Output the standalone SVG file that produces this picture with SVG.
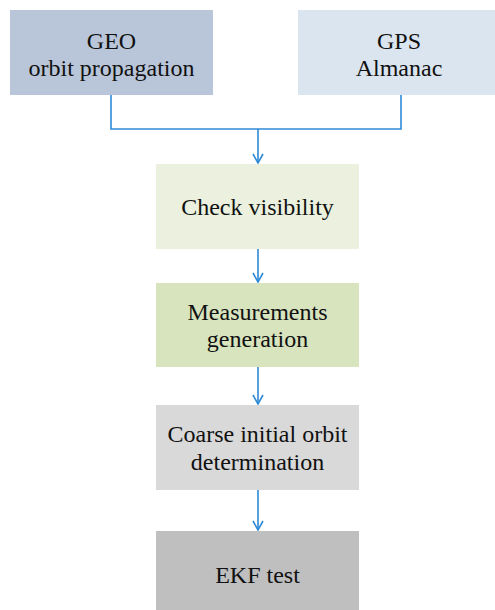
<svg xmlns="http://www.w3.org/2000/svg" width="495" height="610" viewBox="0 0 495 610">
<style>
text{font-size:24px;fill:#111;text-anchor:middle}
.c{fill:none;stroke:#2f8ad6;stroke-width:1.6}
</style>
<defs>
<marker id="ah" viewBox="0 0 12 12" refX="11" refY="6" markerWidth="12" markerHeight="12" markerUnits="userSpaceOnUse" orient="auto">
<path d="M2,1 L11,6 L2,11" fill="none" stroke="#2f8ad6" stroke-width="1.6"/>
</marker>
</defs>
<rect width="495" height="610" fill="#fff"/>
<g font-family="'Liberation Serif', 'Times New Roman', serif">
<g id="geo"><rect x="10" y="10" width="203" height="85" fill="#b9c6d9"/><text x="111.5" y="49">GEO</text><text x="111.5" y="76">orbit propagation</text></g>
<g id="gps"><rect x="298" y="10" width="197" height="85" fill="#dae5f0"/><text x="399" y="49">GPS</text><text x="399" y="76">Almanac</text></g>
<g id="check"><rect x="156" y="164" width="203" height="85" fill="#ebf1de"/><text x="257.5" y="215">Check visibility</text></g>
<g id="meas"><rect x="156" y="283" width="203" height="84" fill="#d7e4bd"/><text x="257.5" y="320">Measurements</text><text x="257.5" y="347">generation</text></g>
<g id="coarse"><rect x="156" y="405" width="203" height="85" fill="#d9d9d9"/><text x="257.5" y="442">Coarse initial orbit</text><text x="257.5" y="470">determination</text></g>
<g id="ekf"><rect x="156" y="531" width="203" height="79" fill="#bfbfbf"/><text x="257.5" y="583">EKF test</text></g>
</g>
<g id="connectors">
<path class="c" d="M111,95 V129 H401 V95"/>
<path class="c" d="M258,129 V163" marker-end="url(#ah)"/>
<path class="c" d="M258,249 V282" marker-end="url(#ah)"/>
<path class="c" d="M258,367 V404" marker-end="url(#ah)"/>
<path class="c" d="M258,490 V530" marker-end="url(#ah)"/>
</g>
</svg>
